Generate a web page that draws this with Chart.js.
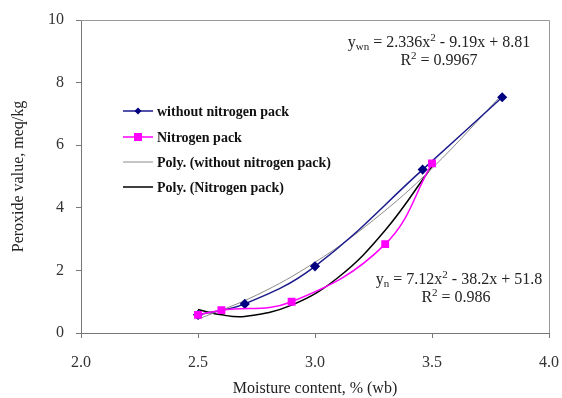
<!DOCTYPE html>
<html>
<head>
<meta charset="utf-8">
<script src="https://cdn.jsdelivr.net/npm/chart.js@4.4.0/dist/chart.umd.min.js"></script>
<style>
  html, body { margin: 0; padding: 0; background: #fff; }
  #wrap { width: 562px; height: 398px; }
</style>
</head>
<body>
<div id="wrap"><canvas id="grafico" width="562" height="398"></canvas></div>
<script>
// valores
const moistureWithout = [2.5, 2.7, 3.0, 3.46, 3.8];
const peroxideWithout = [0.58, 0.93, 2.13, 5.22, 7.53];
const moistureNitrogen = [2.5, 2.6, 2.9, 3.3, 3.5];
const peroxideNitrogen = [0.58, 0.73, 1.0, 2.84, 5.42];

// linhas de tendencia
const trendWithoutX = [2.5, 2.75, 3.0, 3.25, 3.5, 3.8];
const trendWithoutY = [0.44, 1.21, 2.26, 3.61, 5.26, 7.62];
const trendNitrogenX = [2.5, 2.6, 2.7, 2.9, 3.1, 3.3, 3.5];
const trendNitrogenY = [0.75, 0.58, 0.53, 0.89, 1.78, 3.28, 5.32];

const xTicks = [2.0, 2.5, 3.0, 3.5, 4.0];
const yTicks = [0, 2, 4, 6, 8, 10];

const legendLabels = ["without nitrogen pack", "Nitrogen pack", "Poly. (without nitrogen pack)", "Poly. (Nitrogen pack)"];

const serif = '"Liberation Serif", "Times New Roman", serif';

function pares(xs, ys) {
  return xs.map((x, i) => ({ x: x, y: ys[i] }));
}

// moldura em volta da area do grafico
const moldura = {
  id: 'moldura',
  afterDraw(chart) {
    const a = chart.chartArea, ctx = chart.ctx;
    ctx.save();
    ctx.strokeStyle = '#999';
    ctx.lineWidth = 1;
    ctx.beginPath();
    ctx.moveTo(a.left, a.top + 0.5);
    ctx.lineTo(a.right + 0.5, a.top + 0.5);
    ctx.lineTo(a.right + 0.5, a.bottom);
    ctx.stroke();
    ctx.restore();
  }
};

// legenda dentro do grafico
const legenda = {
  id: 'legenda',
  afterDraw(chart) {
    const ctx = chart.ctx;
    const x0 = 123, x1 = 153;
    const ys = [111, 137, 162, 187];
    const ds = chart.data.datasets;
    ctx.save();
    ds.forEach((d, i) => {
      const y = ys[i];
      ctx.strokeStyle = d.borderColor;
      ctx.lineWidth = d.borderWidth;
      ctx.beginPath();
      ctx.moveTo(x0, y);
      ctx.lineTo(x1, y);
      ctx.stroke();
      const cx = (x0 + x1) / 2;
      ctx.fillStyle = d.pointBackgroundColor || d.borderColor;
      if (d.pointStyle === 'rectRot') {
        ctx.beginPath();
        ctx.moveTo(cx, y - 3.5);
        ctx.lineTo(cx + 3.5, y);
        ctx.lineTo(cx, y + 3.5);
        ctx.lineTo(cx - 3.5, y);
        ctx.closePath();
        ctx.fill();
      } else if (d.pointStyle === 'rect') {
        ctx.fillRect(cx - 4, y - 4, 8, 8);
      }
      ctx.fillStyle = '#111';
      ctx.font = 'bold 14px ' + serif;
      ctx.textBaseline = 'middle';
      ctx.fillText(legendLabels[i], 157, y + 1);
    });
    ctx.restore();
  }
};

// equacoes com subscrito e sobrescrito
function desenhaEquacao(ctx, partes, cx, cy) {
  const base = '16px ' + serif, peq = '11px ' + serif;
  let total = 0;
  partes.forEach(p => {
    ctx.font = p.s ? peq : base;
    p.w = ctx.measureText(p.t).width;
    total += p.w;
  });
  let x = cx - total / 2;
  partes.forEach(p => {
    ctx.font = p.s ? peq : base;
    let dy = 0;
    if (p.s === 'sub') dy = 4;
    if (p.s === 'sup') dy = -5;
    ctx.fillText(p.t, x, cy + dy);
    x += p.w;
  });
}

const equacoes = {
  id: 'equacoes',
  afterDraw(chart) {
    const ctx = chart.ctx;
    ctx.save();
    ctx.fillStyle = '#222';
    ctx.textBaseline = 'middle';
    desenhaEquacao(ctx, [{ t: 'y' }, { t: 'wn', s: 'sub' }, { t: ' = 2.336x' }, { t: '2', s: 'sup' }, { t: ' - 9.19x + 8.81' }], 439, 43);
    desenhaEquacao(ctx, [{ t: 'R' }, { t: '2', s: 'sup' }, { t: ' = 0.9967' }], 439, 61);
    desenhaEquacao(ctx, [{ t: 'y' }, { t: 'n', s: 'sub' }, { t: ' = 7.12x' }, { t: '2', s: 'sup' }, { t: ' - 38.2x + 51.8' }], 459, 280);
    desenhaEquacao(ctx, [{ t: 'R' }, { t: '2', s: 'sup' }, { t: ' = 0.986' }], 456, 298);
    ctx.restore();
  }
};

document.addEventListener('DOMContentLoaded', () => {
  const ctx = document.getElementById('grafico').getContext('2d');
  new Chart(ctx, {
    type: 'line',
    data: {
      datasets: [
        {
          label: legendLabels[0],
          data: pares(moistureWithout, peroxideWithout),
          borderColor: '#1a1a8c',
          pointBackgroundColor: '#000080',
          pointBorderColor: '#000080',
          pointStyle: 'rectRot',
          pointRadius: 4,
          borderWidth: 1.5,
          tension: 0.4,
          order: 1
        },
        {
          label: legendLabels[1],
          data: pares(moistureNitrogen, peroxideNitrogen),
          borderColor: '#ff00ff',
          pointBackgroundColor: '#ff00ff',
          pointBorderColor: '#ff00ff',
          pointStyle: 'rect',
          pointRadius: 4.5,
          borderWidth: 1.5,
          tension: 0.4,
          order: 0
        },
        {
          label: legendLabels[2],
          data: pares(trendWithoutX, trendWithoutY),
          borderColor: '#8a8a8a',
          pointRadius: 0,
          borderWidth: 1,
          tension: 0.4,
          order: 2
        },
        {
          label: legendLabels[3],
          data: pares(trendNitrogenX, trendNitrogenY),
          borderColor: '#000000',
          pointRadius: 0,
          borderWidth: 1.5,
          tension: 0.4,
          order: 3
        }
      ]
    },
    options: {
      responsive: false,
      animation: false,
      layout: { padding: { top: 20, right: 13, left: 0, bottom: 0 } },
      plugins: { legend: { display: false }, tooltip: { enabled: false } },
      scales: {
        x: {
          type: 'linear',
          min: 2, max: 4,
          afterBuildTicks: s => { s.ticks = xTicks.map(v => ({ value: v })); },
          afterFit: s => { s.height = 65; s.paddingLeft = 0; s.paddingRight = 0; },
          ticks: {
            callback: v => v.toFixed(1),
            font: { family: serif, size: 16 },
            color: '#333',
            padding: 15,
            maxRotation: 0
          },
          grid: { drawOnChartArea: false, tickLength: 5, color: '#777' },
          border: { color: '#777' },
          title: {
            display: true,
            text: 'Moisture content, % (wb)',
            font: { family: serif, size: 16 },
            color: '#222',
            padding: { top: 0, bottom: 0 }
          }
        },
        y: {
          min: 0, max: 10,
          afterBuildTicks: s => { s.ticks = yTicks.map(v => ({ value: v })); },
          afterFit: s => { s.width = 81; s.paddingTop = 0; s.paddingBottom = 0; },
          ticks: {
            font: { family: serif, size: 16 },
            color: '#333',
            padding: 12
          },
          grid: { drawOnChartArea: false, tickLength: 5, color: '#777' },
          border: { color: '#777' },
          title: {
            display: true,
            text: 'Peroxide value, meq/kg',
            font: { family: serif, size: 16 },
            color: '#222',
            padding: { top: 9, bottom: 0 }
          }
        }
      }
    },
    plugins: [moldura, legenda, equacoes]
  });
});
</script>
</body>
</html>
